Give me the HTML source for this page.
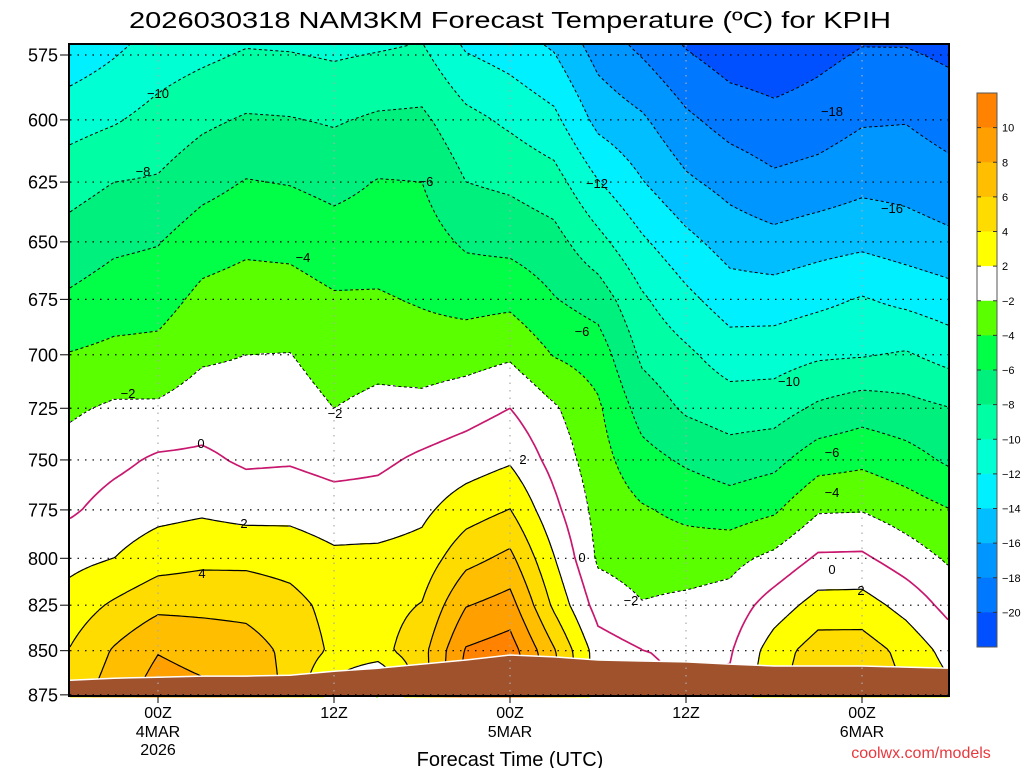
<!DOCTYPE html>
<html><head><meta charset="utf-8"><title>NAM3KM Forecast Temperature KPIH</title>
<style>html,body{margin:0;padding:0;background:#fff;}svg{display:block;font-family:"Liberation Sans",sans-serif;}</style>
</head><body>
<svg id="chart" width="1024" height="768" viewBox="0 0 1024 768" xmlns="http://www.w3.org/2000/svg">
<rect x="0" y="0" width="1024" height="768" fill="#ffffff"/>
<text x="510" y="28" font-size="23" text-anchor="middle" textLength="762" lengthAdjust="spacingAndGlyphs" fill="#000">2026030318 NAM3KM Forecast Temperature (ºC) for KPIH</text>
<g id="heat"></g>
<g id="contours"></g>
<g id="ground"></g>
<g id="grid"></g>
<g id="clabels" font-size="13" fill="#000"></g>
<rect x="69" y="44" width="880" height="652" fill="none" stroke="#000" stroke-width="2"/>
<g id="yaxis" font-size="18" fill="#000"></g>
<g id="xaxis" font-size="16" fill="#000"></g>
<text x="510" y="766" font-size="20" text-anchor="middle">Forecast Time (UTC)</text>
<text x="921" y="758" font-size="16" text-anchor="middle" fill="#e8383d">coolwx.com/models</text>
<g id="cbar" font-size="11" fill="#000"></g>
</svg>
<script>
const hours = [0,3,6,9,12,15,18,21,24,27,30,33,36,39,42,45,48,51,54,57,60];
const pLevels = [575,600,625,650,675,700,725,750,775,800,825,850,875];
const t575 = [-13.1,-12.1,-11.0,-10.4,-9.8,-9.9,-10.2,-9.9,-9.6,-11.9,-12.7,-13.9,-16.6,-18.1,-19.8,-20.9,-21.2,-20.5,-19.8,-19.8,-20.3];
const t600 = [-10.8,-10.2,-9.3,-8.4,-7.8,-7.9,-8.2,-7.7,-7.6,-9.4,-10.4,-11.5,-14.6,-15.7,-17.6,-18.8,-19.4,-19.0,-18.2,-18.1,-18.85];
const t625 = [-8.8,-8.0,-7.8,-6.7,-5.9,-6.1,-6.6,-5.9,-6.0,-8.0,-8.4,-9.2,-11.9,-13.9,-15.65,-16.7,-17.6,-17.2,-16.55,-16.7,-17.3];
const t650 = [-7.2,-6.4,-6.1,-4.9,-4.4,-4.5,-5.1,-4.9,-5.1,-6.3,-6.6,-7.3,-9.4,-11.7,-13.45,-14.85,-15.35,-14.8,-14.45,-15.0,-15.55];
const t675 = [-5.7,-5.0,-4.8,-3.5,-3.1,-3.2,-3.8,-3.8,-4.2,-4.7,-4.5,-5.9,-6.9,-9.7,-11.5,-13.0,-13.0,-12.5,-11.85,-12.5,-13.15];
const t700 = [-3.9,-3.5,-3.4,-2.3,-2.0,-1.95,-2.9,-2.6,-3.0,-2.8,-2.3,-4.1,-4.9,-8.4,-9.6,-11.0,-10.9,-10.3,-10.15,-9.8,-10.75];
const t725 = [-2.3,-1.7,-1.7,-1.0,-1.1,-1.1,-2.0,-1.5,-1.4,-0.8,0,-1.75,-3.7,-6.8,-8.3,-9.0,-8.9,-7.65,-6.9,-7.35,-7.95];
const t750 = [-1.2,-0.5,0.3,0.4,-0.3,-0.2,-0.7,-0.4,0.35,1.0,1.75,-0.7,-3.2,-5.3,-6.3,-7.05,-6.6,-4.85,-4.45,-5.2,-6.35];
const t775 = [-0.3,0.8,1.4,1.7,1.3,1.4,0.9,0.9,1.55,3.1,4.05,0.55,-2.7,-3.8,-4.5,-5.0,-4.3,-2.2,-2.1,-3.0,-3.95];
const t800 = [1.4,2.0,3.1,3.5,3.5,3.2,2.4,2.5,2.8,5.35,6.5,2.1,-2.3,-2.85,-2.95,-2.6,-1.5,0.3,0.35,-1.0,-2.3];
const t825 = [2.9,4.3,5.5,5.5,5.4,4.7,3.3,3.2,4.1,7.9,8.8,3.6,-0.85,-1.9,-1.55,-1.2,0.95,2.8,2.85,1.3,-0.7];
const t850 = [4.1,6.2,7.9,7.3,6.9,5.5,3.6,3.3,5.3,10.2,11,6.2,1.0,0.05,-0.3,-0.2,3.0,5.0,5.0,3.4,1.2];
const t875 = [5,7,9,8.5,7.5,5.5,1,-2,5,11,12,7,1,0.5,0,0.5,3.5,5.5,5.5,4,2.5];
const groundP = [866.6,865.5,864.9,864.3,864.3,863.8,861.5,859.8,857.5,855.2,852.4,853.5,855.2,855.8,856.3,857.5,858.6,858.6,858.6,859.2,859.8];
const yTickLabels = ["575","600","625","650","675","700","725","750","775","800","825","850","875"];
const xTickHours = [6,18,30,42,54];
const xTickLine1 = ["00Z","12Z","00Z","12Z","00Z"];
const xTickLine2 = ["4MAR","","5MAR","","6MAR"];
const xTickLine3 = ["2026","","","",""];
const cbarLabels = ["10","8","6","4","2","−2","−4","−6","−8","−10","−12","−14","−16","−18","−20"];
const contourLevels = [-20,-18,-16,-14,-12,-10,-8,-6,-4,-2,0,2,4,6,8,10];

const temps = [t575,t600,t625,t650,t675,t700,t725,t750,t775,t800,t825,t850,t875];
const NS = "http://www.w3.org/2000/svg";
const X0 = 70, X1 = 948, Y0 = 45, Y1 = 696;
function xOf(h){ return 70 + h*176/12; }
function yOf(p){ return 55 + Math.log(p/575)*1524; }
function pOf(y){ return 575*Math.exp((y-55)/1524); }
function mk(tag, attrs, parent){ const e=document.createElementNS(NS,tag); for(const k in attrs) e.setAttribute(k,attrs[k]); parent.appendChild(e); return e; }

function colorOf(T){
  if(T>=10) return "#ff8200"; if(T>=8) return "#ffa000"; if(T>=6) return "#ffbe00";
  if(T>=4) return "#ffdc00"; if(T>=2) return "#ffff00"; if(T>=-2) return "#ffffff";
  if(T>=-4) return "#5aff00"; if(T>=-6) return "#00ff46"; if(T>=-8) return "#00f07d";
  if(T>=-10) return "#00ffa5"; if(T>=-12) return "#00ffd2"; if(T>=-14) return "#00f0ff";
  if(T>=-16) return "#00beff"; if(T>=-18) return "#0096ff"; if(T>=-20) return "#0078ff";
  return "#0050ff";
}
const cbarColors = ["#ff8200","#ffa000","#ffbe00","#ffdc00","#ffff00","#ffffff","#5aff00","#00ff46","#00f07d","#00ffa5","#00ffd2","#00f0ff","#00beff","#0096ff","#0078ff","#0050ff"];

function tempAt(x,y){
  const step = hours[1]-hours[0];
  let fi = ((x-70)/(176/12) - hours[0])/step;
  fi = Math.max(0, Math.min(hours.length-1.0001, fi));
  const i = Math.floor(fi), fx = fi - i;
  const p = pOf(y);
  let j = 0;
  while(j < pLevels.length-2 && p > pLevels[j+1]) j++;
  const fy = (Math.log(p)-Math.log(pLevels[j]))/(Math.log(pLevels[j+1])-Math.log(pLevels[j]));
  const a = temps[j][i], b = temps[j][i+1], c = temps[j+1][i], d = temps[j+1][i+1];
  const top = a + (b-a)*fx, bot = c + (d-c)*fx;
  return top + (bot-top)*fy;
}

// filled field
const heat = document.getElementById("heat");
for(let y=Y0; y<Y1; y+=2){
  let runStart = X0, runCol = null;
  for(let x=X0; x<=X1; x+=2){
    const col = x<X1 ? colorOf(tempAt(x+1,y+1)) : null;
    if(col !== runCol){
      if(runCol !== null){
        const r = mk("rect",{x:runStart,y:y,width:x-runStart+0.5,height:2.5,fill:runCol},heat);
        
        
      }
      runStart = x; runCol = col;
    }
  }
}

// contours (marching squares)
const G = 4;
const nx = Math.ceil((X1-X0)/G)+1, ny = Math.ceil((Y1-Y0)/G)+1;
const gx = i => Math.min(X1, X0+i*G), gy = j => Math.min(Y1, Y0+j*G);
const V = [];
for(let j=0;j<ny;j++){ const row=[]; for(let i=0;i<nx;i++) row.push(tempAt(gx(i),gy(j))); V.push(row); }
const cases = {1:[["L","B"]],2:[["B","R"]],3:[["L","R"]],4:[["T","R"]],5:[["L","T"],["B","R"]],6:[["T","B"]],7:[["L","T"]],8:[["L","T"]],9:[["T","B"]],10:[["T","R"],["L","B"]],11:[["T","R"]],12:[["L","R"]],13:[["B","R"]],14:[["L","B"]]};
const cont = document.getElementById("contours");
contourLevels.forEach(L=>{
  const pts = {}, segs = [], adj = {};
  function edge(e,i,j){
    let key, x, y;
    if(e==="T"){ key="h"+i+"_"+j; const a=V[j][i], b=V[j][i+1]; const t=(L-a)/(b-a); x=gx(i)+(gx(i+1)-gx(i))*t; y=gy(j); }
    else if(e==="B"){ key="h"+i+"_"+(j+1); const a=V[j+1][i], b=V[j+1][i+1]; const t=(L-a)/(b-a); x=gx(i)+(gx(i+1)-gx(i))*t; y=gy(j+1); }
    else if(e==="L"){ key="v"+i+"_"+j; const a=V[j][i], b=V[j+1][i]; const t=(L-a)/(b-a); x=gx(i); y=gy(j)+(gy(j+1)-gy(j))*t; }
    else { key="v"+(i+1)+"_"+j; const a=V[j][i+1], b=V[j+1][i+1]; const t=(L-a)/(b-a); x=gx(i+1); y=gy(j)+(gy(j+1)-gy(j))*t; }
    pts[key]=[x,y]; return key;
  }
  for(let j=0;j<ny-1;j++) for(let i=0;i<nx-1;i++){
    const idx=(V[j][i]>=L?8:0)|(V[j][i+1]>=L?4:0)|(V[j+1][i+1]>=L?2:0)|(V[j+1][i]>=L?1:0);
    const cs=cases[idx]; if(!cs) continue;
    cs.forEach(pr=>{
      const ka=edge(pr[0],i,j), kb=edge(pr[1],i,j);
      const s=segs.length; segs.push([ka,kb,false]);
      (adj[ka]=adj[ka]||[]).push(s); (adj[kb]=adj[kb]||[]).push(s);
    });
  }
  let d="";
  function nextFrom(key){ const l=adj[key]||[]; for(const s of l) if(!segs[s][2]) return s; return -1; }
  for(let s=0;s<segs.length;s++){
    if(segs[s][2]) continue;
    segs[s][2]=true;
    let line=[segs[s][0],segs[s][1]];
    let k=segs[s][1], n;
    while((n=nextFrom(k))>=0){ segs[n][2]=true; k = segs[n][0]===k?segs[n][1]:segs[n][0]; line.push(k); }
    k=segs[s][0];
    while((n=nextFrom(k))>=0){ segs[n][2]=true; k = segs[n][0]===k?segs[n][1]:segs[n][0]; line.unshift(k); }
    d += "M"+line.map(q=>pts[q][0].toFixed(1)+","+pts[q][1].toFixed(1)).join("L");
  }
  if(d){
    const attrs={d:d,fill:"none"};
    if(L<0){ attrs.stroke="#000"; attrs["stroke-width"]="1"; attrs["stroke-dasharray"]="3,2.5"; }
    else if(L===0){ attrs.stroke="#c8186e"; attrs["stroke-width"]="1.7"; }
    else { attrs.stroke="#000"; attrs["stroke-width"]="1.2"; }
    const p=mk("path",attrs,cont);
    
    
  }
});

// ground
const gnd = document.getElementById("ground");
let gpts = groundP.map((p,i)=>xOf(hours[i]).toFixed(1)+","+yOf(p).toFixed(1));
const poly = mk("polygon",{points: gpts.join(" ")+" "+xOf(hours[hours.length-1])+","+Y1+" "+X0+","+Y1, fill:"#a0522d"},gnd);


const gl = mk("polyline",{points:gpts.join(" "),fill:"none",stroke:"#ffffff","stroke-width":"1.5"},gnd);



// grid lines
const grid = document.getElementById("grid");
pLevels.forEach(p=>{
  const l=mk("line",{x1:X0,x2:X1,y1:yOf(p),y2:yOf(p),stroke:"#000","stroke-width":"1.2","stroke-dasharray":"1.5,6"},grid);
  
  
});
xTickHours.forEach(h=>{
  const l=mk("line",{x1:xOf(h),x2:xOf(h),y1:Y0,y2:Y1,stroke:"#aaaaaa","stroke-width":"1.2","stroke-dasharray":"1.5,6"},grid);
  
  
});

// y axis
const ya = document.getElementById("yaxis");
pLevels.forEach((p,i)=>{
  const t=mk("text",{x:58,y:(yOf(p)+6.5).toFixed(1),"text-anchor":"end"},ya);
  t.textContent=yTickLabels[i];
  
  
  const tk=mk("line",{x1:60,x2:69,y1:yOf(p),y2:yOf(p),stroke:"#000","stroke-width":"1"},ya);
  
  
});

// x axis
const xa = document.getElementById("xaxis");
xTickHours.forEach((h,i)=>{
  const x=xOf(h);
  [[xTickLine1[i],718],[xTickLine2[i],737],[xTickLine3[i],755]].forEach(pr=>{
    if(!pr[0]) return;
    const t=mk("text",{x:x,y:pr[1],"text-anchor":"middle"},xa);
    t.textContent=pr[0];
    
    
  });
  const tk=mk("line",{x1:x,x2:x,y1:696,y2:703,stroke:"#000","stroke-width":"1"},xa);
  
  
});

// contour labels (annotations)
const labelSpots = [["−10",158,98],["−8",143,176],["−6",426,186],["−4",303,262],["−2",128,398],["−2",335,418],["0",201,448],["2",244,528],["4",202,578],["2",523,464],["−12",597,188],["−18",832,116],["−16",892,213],["−6",582,336],["−10",789,386],["−6",832,457],["−4",832,497],["0",582,562],["−2",631,605],["0",832,574],["2",861,595]];
const cl = document.getElementById("clabels");
labelSpots.forEach(s=>{
  const t=mk("text",{x:s[1],y:s[2],"text-anchor":"middle"},cl);
  t.textContent=s[0];
  
  
});

// color bar
const cb = document.getElementById("cbar");
const cbTop=93, cbBot=647, cbH=(cbBot-cbTop)/cbarColors.length;
cbarColors.forEach((c,i)=>{
  const r=mk("rect",{x:977,y:(cbTop+i*cbH).toFixed(2),width:20,height:(cbH+0.3).toFixed(2),fill:c},cb);
  
  
});
const cbf=mk("rect",{x:977,y:cbTop,width:20,height:cbBot-cbTop,fill:"none",stroke:"#555","stroke-width":"1"},cb);


cbarLabels.forEach((lab,i)=>{
  const y=cbTop+(i+1)*cbH;
  const tk=mk("line",{x1:977,x2:981,y1:y,y2:y,stroke:"#333","stroke-width":"1"},cb);
  
  
  const tk2=mk("line",{x1:993,x2:997,y1:y,y2:y,stroke:"#333","stroke-width":"1"},cb);
  
  
  const t=mk("text",{x:1002,y:(y+4).toFixed(1)},cb);
  t.textContent=lab;
  
  
});
</script>
</body></html>
